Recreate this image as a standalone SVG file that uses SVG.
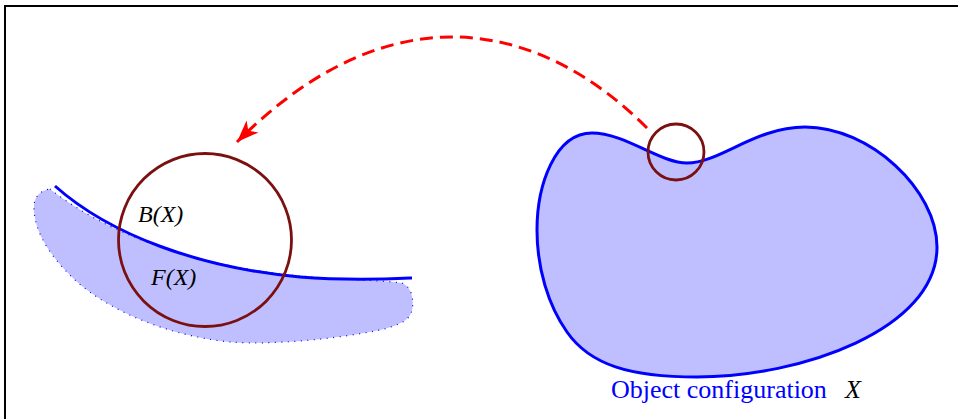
<svg xmlns="http://www.w3.org/2000/svg" width="958" height="419" viewBox="0 0 958 419">
<style>
.frame{fill:none;stroke:#000;stroke-width:2}
.edge{fill:none;stroke:#0000ff;stroke-width:3}
.dotted{fill:#bfbfff;stroke:#0000ff;stroke-width:1.2;stroke-dasharray:1 5.5}
.ball{fill:none;stroke:#7a1010;stroke-width:2.8}
.conn{fill:none;stroke:#ff0000;stroke-width:3;stroke-dasharray:13 7}
.lbl{font-family:"Liberation Serif","Times New Roman",serif;font-style:italic;font-size:24px;fill:#000}
.cap{font-family:"Liberation Serif","Times New Roman",serif;font-size:26px;fill:#0000ff}
</style>
<defs>
<marker id="ah" markerUnits="userSpaceOnUse" markerWidth="30" markerHeight="30" viewBox="-25 -12 30 24" refX="0" refY="0" orient="auto">
<path d="M0,0 L-22,-8.5 L-16,0 L-22,8.5 Z" fill="#ff0000"/>
</marker>
</defs>
<g id="frame">
<path class="frame" d="M5,419 L5,6 L958,6"/>
</g>
<g id="feature">
<path class="dotted" d="M50,189 C105,232 185,263 290,275 C340,280 380,280 402,283 C412,287 414,300 412,310 C410,320 400,325 380,330 C330,340 270,345 230,342 C170,336 110,312 75,280 C45,252 33,226 34,205 C35,195 42,190 50,189 Z"/>
<path class="edge" d="M55,186 C110,235 200,268 300,277 C350,281 390,279 412,278"/>
</g>
<g id="ball-large">
<circle class="ball" cx="205" cy="240" r="86.5"/>
</g>
<g id="labels-left">
<text class="lbl" x="138" y="222">B(X)</text>
<text class="lbl" x="151" y="285">F(X)</text>
</g>
<g id="object">
<path class="edge" style="fill:#bfbfff" d="M537,230 C537,185 555,133 592,133 C625,133 660,163 687,163 C720,163 755,127 805,127 C870,127 937,190 937,247 C937,330 800,377 697,377 C630,377 590,365 567,332 C548,305 537,268 537,230 Z"/>
<text class="cap" x="611" y="398">Object configuration</text>
<text class="lbl" x="845" y="398" style="font-size:26px">X</text>
</g>
<g id="ball-small">
<circle class="ball" cx="676" cy="152" r="28"/>
</g>
<g id="connectors">
<path class="conn" marker-end="url(#ah)" d="M647,128 C540.5,21.5 391.5,-12.5 237,142"/>
</g>
</svg>
